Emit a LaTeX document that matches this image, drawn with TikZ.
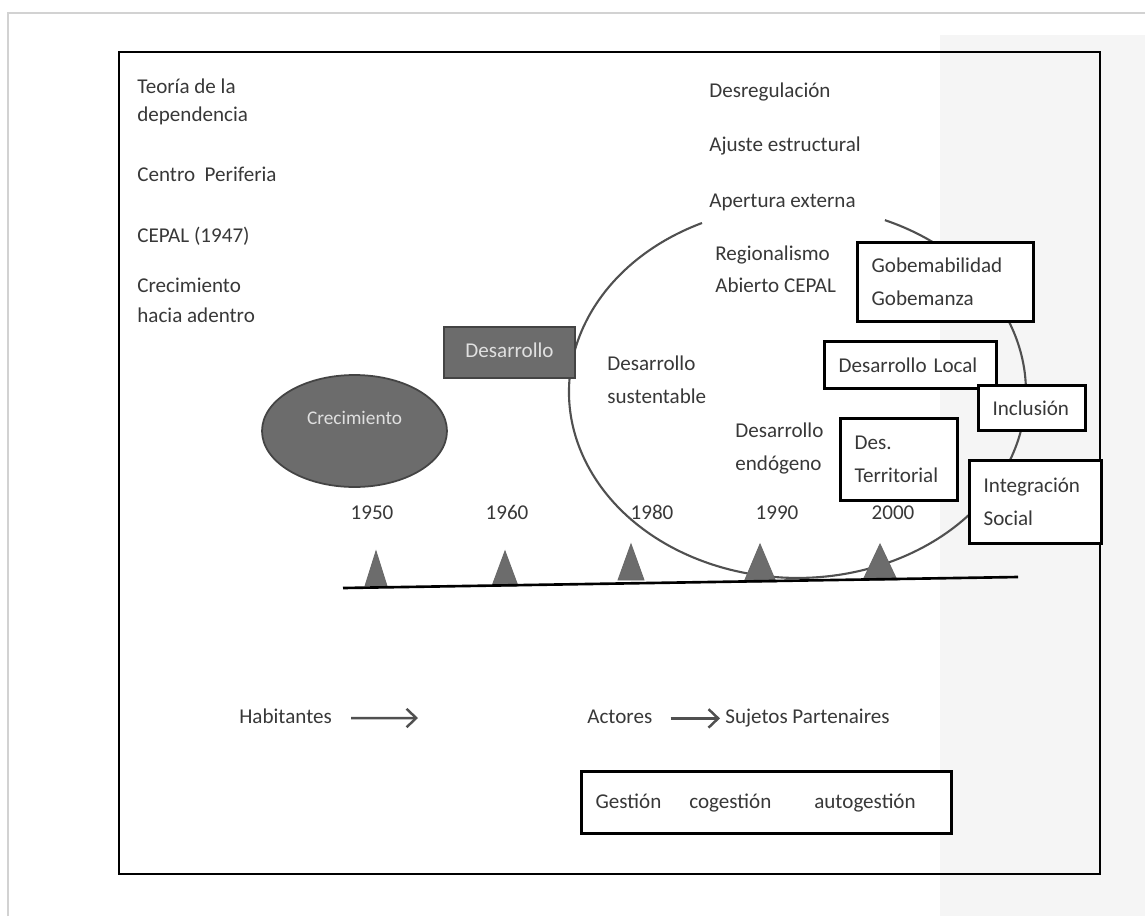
\documentclass[tikz,border=0pt]{standalone}
\usepackage{fontspec}
\setmainfont{Carlito}
\usepackage{xcolor}
\usepackage{tikz}
\usetikzlibrary{shapes,arrows,arrows.meta,positioning}

\definecolor{txtgray}{HTML}{383838}
\definecolor{fillgray}{HTML}{6C6C6C}
\definecolor{edgegray}{HTML}{444444}
\definecolor{ringgray}{HTML}{505050}
\definecolor{paleback}{HTML}{F5F5F5}

\begin{document}
\begin{tikzpicture}[x=0.02cm, y=-0.02cm, >={Straight Barb[length=5.5pt, width=10.5pt]},
  txt/.style={inner sep=0pt, anchor=base west, text=txtgray, text height=1.6ex, text depth=0.5ex, font=\fontsize{12}{14}\selectfont},
  yr/.style={txt, anchor=base},
  box/.style={draw=black, line width=1.8pt, fill=white, anchor=north west, align=left, inner xsep=0.28cm, inner ysep=0pt, text=txtgray, font=\fontsize{12}{18.7}\selectfont},
  dark/.style={draw=edgegray, line width=1pt, fill=fillgray, text=white!88!black, text height=1.5ex, text depth=0.4ex, font=\fontsize{12}{14}\selectfont},
  peak/.style={draw=edgegray!80, line width=0.5pt, fill=fillgray},
  ring/.style={draw=ringgray, line width=1.2pt},
  flow/.style={->, draw=ringgray, line width=1.4pt}]

\useasboundingbox (0,0) rectangle (1145,916);
\fill[paleback] (940,35) rectangle (1145,916);
\draw[gray!35, line width=0.8pt] (8,916) |- (1145,13);
\draw[line width=1.5pt] (119,52) rectangle (1100,874);

\draw[ring] (702,223) arc[start angle=114.7, end angle=427.5, x radius=4.57cm, y radius=3.72cm];

\node[dark, ellipse, minimum width=3.7cm, minimum height=2.24cm, font=\fontsize{11}{13}\selectfont] (crec) at (354.5,431) {\raisebox{0.22cm}{Crecimiento}};
\node[dark, rectangle, minimum width=2.62cm, minimum height=1.02cm] (desa) at (509.5,352.5) {Desarrollo};

\foreach \x/\w/\t/\b in {376/11/551/586, 505/13/551/586, 631/13/544/580, 760/16/544/582, 880/17/544/580}
  \draw[peak] (\x-\w,\b) -- (\x,\t) -- (\x+\w,\b) -- cycle;
\coordinate (tl0) at (343,588);
\coordinate (tl1) at (1018,577);
\draw[line width=1.5pt] (tl0) -- (tl1);

\foreach \x/\yr in {372/1950, 507/1960, 652/1980, 777/1990, 893/2000}
  \node[yr] (y\yr) at (\x,519) {\yr};

\node[txt] (teoria) at (137,93) {Teoría de la};
\node[txt] (depen) [below=0.58cm of teoria.base west, anchor=base west] {dependencia};
\node[txt] (centro) [below=1.2cm of depen.base west, anchor=base west] {Centro~~Periferia};
\node[txt] (cepal) [below=1.22cm of centro.base west, anchor=base west] {CEPAL (1947)};
\node[txt] (crecad) [below=1.0cm of cepal.base west, anchor=base west] {Crecimiento};
\node[txt] (hacia) [below=0.6cm of crecad.base west, anchor=base west] {hacia adentro};

\node[txt] (desreg) at (709,97) {Desregulación};
\node[txt] (ajuste) [below=1.1cm of desreg.base west, anchor=base west] {Ajuste estructural};
\node[txt] (apert) [below=1.12cm of ajuste.base west, anchor=base west] {Apertura externa};

\node[txt] (region) at (715,260) {Regionalismo};
\node[txt] (abierto) [below=0.66cm of region.base west, anchor=base west] {Abierto CEPAL};
\node[txt] (sust) at (607,370) {Desarrollo};
\node[txt] (sust2) [below=0.66cm of sust.base west, anchor=base west] {sustentable};
\node[txt] (endo) at (735,437) {Desarrollo};
\node[txt] (endo2) [below=0.66cm of endo.base west, anchor=base west] {endógeno};

\node[box, text width=2.96cm, minimum height=1.58cm] (gobern) at (856,241) {Gobemabilidad\\Gobemanza};
\node[box, text width=2.88cm, minimum height=0.94cm] (deslocal) at (823,340) {Desarrollo Local};
\node[box, text width=1.58cm, minimum height=0.9cm] (inclus) at (977,384) {Inclusión};
\node[box, text width=1.78cm, minimum height=1.64cm] (desterr) at (839,417) {Des.\\Territorial};
\node[box, text width=2.08cm, minimum height=1.66cm] (integ) at (968,459) {Integración\\Social};

\node[txt] (habit) at (239,723) {Habitantes};
\coordinate (habtip) at (418,718);
\node[txt] (actores) at (587,723) {Actores};
\node[txt] (sujetos) at (725,723) {Sujetos Partenaires};

\path (habit) edge[flow, shorten <=0.38cm] (habtip);
\path (actores) edge[flow, shorten <=0.36cm, shorten >=0.1cm] (sujetos);

\node[box, text width=6.84cm, minimum height=1.24cm] (gestion) at (580,770) {Gestión\hspace{0.56cm}cogestión\hspace{0.86cm}autogestión};

\end{tikzpicture}
\end{document}
